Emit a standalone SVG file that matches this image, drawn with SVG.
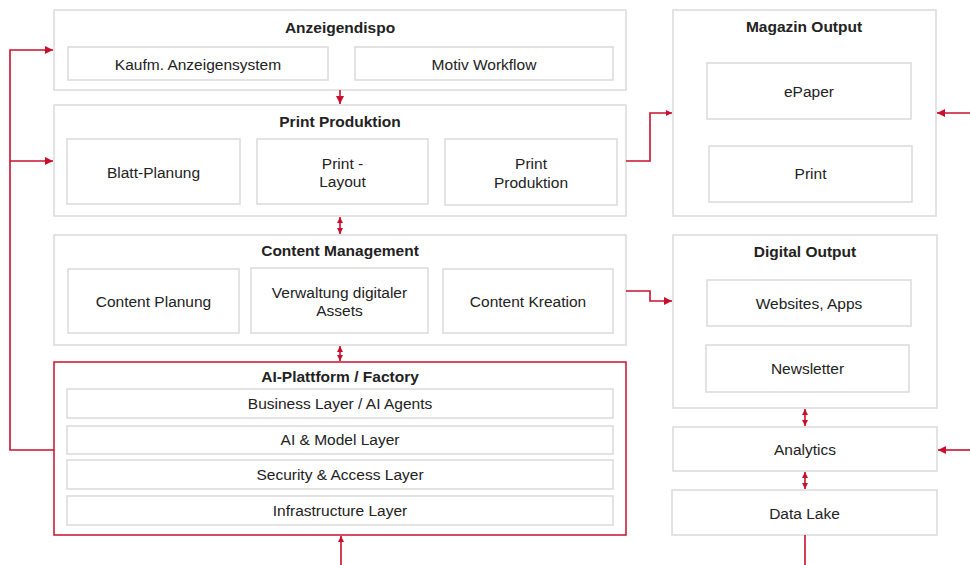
<svg xmlns="http://www.w3.org/2000/svg" width="970" height="565" viewBox="0 0 970 565">
<defs>
<style>
.box{fill:#fff;stroke:#dadada;stroke-width:1.5}
.red{fill:#fff;stroke:#c8102e;stroke-width:1.5}
.t{font-family:"Liberation Sans",Arial,sans-serif;font-size:15.5px;fill:#222;text-anchor:middle;dominant-baseline:central}
.b{font-weight:bold}
.c{fill:none;stroke:#c8102e;stroke-width:1.6}
</style>
<marker id="ah" viewBox="0 0 10 10" refX="10" refY="5" markerWidth="9" markerHeight="8" markerUnits="userSpaceOnUse" orient="auto-start-reverse"><path d="M0,0L10,5L0,10z" fill="#c8102e"/></marker>
<marker id="sm" viewBox="0 0 10 10" refX="10" refY="5" markerWidth="6" markerHeight="6" markerUnits="userSpaceOnUse" orient="auto-start-reverse"><path d="M0,0L10,5L0,10z" fill="#c8102e"/></marker>
</defs>
<rect width="970" height="565" fill="#fff"/>

<g id="anzeigendispo">
<rect class="box" x="54" y="10" width="572" height="80"/>
<text class="t b" x="340" y="27">Anzeigendispo</text>
<rect class="box" x="68" y="47" width="260" height="33"/>
<text class="t" x="198" y="64">Kaufm. Anzeigensystem</text>
<rect class="box" x="355" y="47" width="258" height="33"/>
<text class="t" x="484" y="64">Motiv Workflow</text>
</g>

<g id="print-produktion">
<rect class="box" x="54" y="105" width="572" height="111"/>
<text class="t b" x="340" y="121">Print Produktion</text>
<rect class="box" x="67" y="139" width="173" height="65"/>
<text class="t" x="153.5" y="172">Blatt-Planung</text>
<rect class="box" x="257" y="139" width="171" height="65"/>
<text class="t" x="342.5" y="163">Print -</text>
<text class="t" x="342.5" y="181">Layout</text>
<rect class="box" x="445" y="139" width="172" height="66"/>
<text class="t" x="531" y="163">Print</text>
<text class="t" x="531" y="182">Produktion</text>
</g>

<g id="content-management">
<rect class="box" x="54" y="235" width="572" height="110"/>
<text class="t b" x="340" y="250">Content Management</text>
<rect class="box" x="68" y="269" width="171" height="64"/>
<text class="t" x="153.5" y="301">Content Planung</text>
<rect class="box" x="251" y="268" width="177" height="65"/>
<text class="t" x="339.5" y="292">Verwaltung digitaler</text>
<text class="t" x="339.5" y="310">Assets</text>
<rect class="box" x="443" y="269" width="170" height="64"/>
<text class="t" x="528" y="301">Content Kreation</text>
</g>

<g id="ai-plattform">
<rect class="red" x="54" y="362" width="572" height="173"/>
<text class="t b" x="340" y="376">AI-Plattform / Factory</text>
<rect class="box" x="67" y="389" width="546" height="29"/>
<text class="t" x="340" y="403.5">Business Layer / AI Agents</text>
<rect class="box" x="67" y="426" width="546" height="28"/>
<text class="t" x="340" y="439.5">AI &amp; Model Layer</text>
<rect class="box" x="67" y="460" width="546" height="29"/>
<text class="t" x="340" y="474.5">Security &amp; Access Layer</text>
<rect class="box" x="67" y="496" width="546" height="29"/>
<text class="t" x="340" y="510.5">Infrastructure Layer</text>
</g>

<g id="magazin-output">
<rect class="box" x="673" y="10" width="263" height="206"/>
<text class="t b" x="804" y="26">Magazin Output</text>
<rect class="box" x="707" y="63" width="204" height="56"/>
<text class="t" x="809" y="91">ePaper</text>
<rect class="box" x="709" y="146" width="203" height="56"/>
<text class="t" x="810.5" y="173">Print</text>
</g>

<g id="digital-output">
<rect class="box" x="673" y="235" width="264" height="173"/>
<text class="t b" x="805" y="251">Digital Output</text>
<rect class="box" x="707" y="280" width="204" height="46"/>
<text class="t" x="809" y="303">Websites, Apps</text>
<rect class="box" x="706" y="345" width="203" height="47"/>
<text class="t" x="807.5" y="368">Newsletter</text>
</g>

<g id="analytics">
<rect class="box" x="673" y="427" width="264" height="44"/>
<text class="t" x="805" y="449">Analytics</text>
</g>

<g id="data-lake">
<rect class="box" x="672" y="490" width="265" height="45"/>
<text class="t" x="804.5" y="513">Data Lake</text>
</g>

<g id="connectors">
<path class="c" d="M340,90V104" marker-end="url(#ah)"/>
<path class="c" d="M340,217V234" marker-start="url(#sm)" marker-end="url(#sm)"/>
<path class="c" d="M340,346V361" marker-start="url(#sm)" marker-end="url(#sm)"/>
<path class="c" d="M341,565V536" marker-end="url(#sm)"/>
<path class="c" d="M54,450H10V50H53" marker-end="url(#ah)"/>
<path class="c" d="M10,161H53" marker-end="url(#ah)"/>
<path class="c" d="M626,161H650V113H672" marker-end="url(#sm)"/>
<path class="c" d="M970,113H937" marker-end="url(#ah)"/>
<path class="c" d="M626,291H650V301H672" marker-end="url(#ah)"/>
<path class="c" d="M805,409V426" marker-start="url(#sm)" marker-end="url(#sm)"/>
<path class="c" d="M805,472V489" marker-start="url(#sm)" marker-end="url(#sm)"/>
<path class="c" d="M970,450H938" marker-end="url(#ah)"/>
<path class="c" d="M805,535V565"/>
</g>
</svg>
